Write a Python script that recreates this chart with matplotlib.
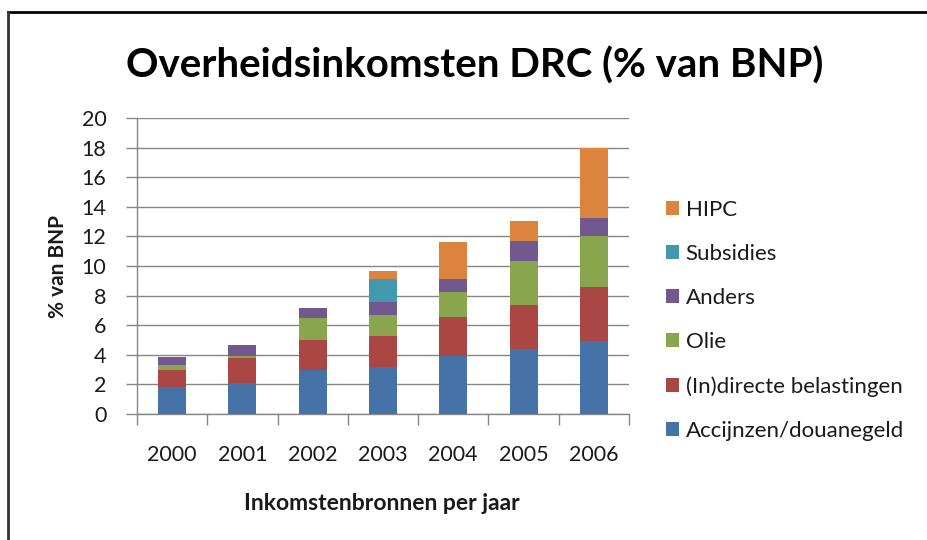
import matplotlib
matplotlib.use("Agg")
import matplotlib.pyplot as plt
import numpy as np
from matplotlib.lines import Line2D

years = ["2000", "2001", "2002", "2003", "2004", "2005", "2006"]
accijnzen = [1.8, 2.08, 3.0, 3.16, 3.95, 4.36, 4.9]
belastingen = [1.15, 1.7, 2.0, 2.13, 2.63, 3.03, 3.69]
olie = [0.35, 0.16, 1.5, 1.38, 1.67, 2.94, 3.43]
anders = [0.55, 0.72, 0.65, 0.88, 0.9, 1.38, 1.22]
subsidies = [0, 0, 0, 1.6, 0, 0, 0]
hipc = [0, 0, 0, 0.54, 2.47, 1.35, 4.75]

series = [
    ("Accijnzen/douanegeld", accijnzen, "#4572A7"),
    ("(In)directe belastingen", belastingen, "#AA4643"),
    ("Olie", olie, "#89A54E"),
    ("Anders", anders, "#71588F"),
    ("Subsidies", subsidies, "#4198AF"),
    ("HIPC", hipc, "#DB843D"),
]

plt.rcParams['font.family'] = ['Lato', 'DejaVu Sans']
fig = plt.figure(figsize=(9.27, 5.4), dpi=100)
ax = fig.add_axes([137/927, 1-414/540, (629-137)/927, (414-118)/540])

x = np.arange(len(years))
bottom = np.zeros(len(years))
for name, vals, col in series:
    v = np.array(vals)
    ax.bar(x, v, 0.40, bottom=bottom, color=col, label=name, zorder=3)
    bottom += v

ax.set_ylim(0, 20)
ax.set_xlim(-0.5, len(years) - 0.5)
ax.set_yticks(np.arange(0, 21, 2))
ax.set_xticks(x)
ax.set_xticklabels(years)
ax.set_xticks(np.arange(-0.5, len(years), 1), minor=True)
ax.tick_params(axis='x', which='major', length=0, pad=22, labelsize=15.5, labelcolor='#1a1a1a')
ax.tick_params(axis='x', which='minor', length=8, color='#868686', width=1)
ax.tick_params(axis='y', length=8, color='#868686', width=1, pad=14, labelsize=15.5, labelcolor='#1a1a1a')
ax.grid(axis='y', color='#868686', linewidth=1, zorder=0)
for s in ['top', 'right']:
    ax.spines[s].set_visible(False)
for s in ['left', 'bottom']:
    ax.spines[s].set_color('#868686')
    ax.spines[s].set_linewidth(1)

ax.set_ylabel("% van BNP", fontsize=15, fontweight='bold', color='#1a1a1a', va='center')
ax.yaxis.set_label_coords((58-137)/492, 0.5)
ax.set_xlabel("Inkomstenbronnen per jaar", fontsize=16.5, fontweight='bold', color='#1a1a1a', va='center')
ax.xaxis.set_label_coords((382-137)/492, -(503-414)/296)

fig.text(475/927, 1-66/540, "Overheidsinkomsten DRC (% van BNP)", fontsize=29,
         fontweight='bold', ha='center', va='center', color='black')

handles, labels = ax.get_legend_handles_labels()
leg = ax.legend(handles[::-1], labels[::-1], loc='upper left',
                bbox_to_anchor=(666/927, 1-200/540), bbox_transform=fig.transFigure,
                frameon=False, fontsize=16, handlelength=0.58, handleheight=0.58,
                handletextpad=0.3, labelspacing=1.08, borderaxespad=0, borderpad=0)
for t in leg.get_texts():
    t.set_color('#1a1a1a')

# outer frame lines
fig.add_artist(Line2D([8/927, 1], [1-12/540, 1-12/540], transform=fig.transFigure, color='black', linewidth=2))
fig.add_artist(Line2D([8/927, 8/927], [0, 1-12/540], transform=fig.transFigure, color='#333333', linewidth=2))

fig.savefig("out.png", dpi=100)
